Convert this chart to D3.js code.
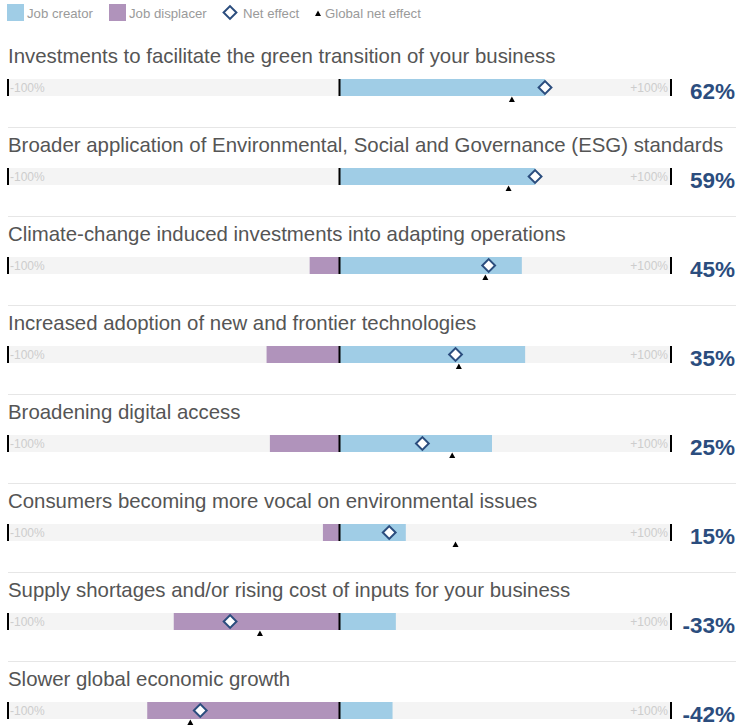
<!DOCTYPE html>
<html>
<head>
<meta charset="utf-8">
<script src="https://cdn.jsdelivr.net/npm/d3@7"></script>
<style>
  html, body { margin: 0; padding: 0; background: #fff; }
  svg { display: block; }
</style>
</head>
<body>
<div id="chart"></div>
<script>
const categories = [
  "Investments to facilitate the green transition of your business",
  "Broader application of Environmental, Social and Governance (ESG) standards",
  "Climate-change induced investments into adapting operations",
  "Increased adoption of new and frontier technologies",
  "Broadening digital access",
  "Consumers becoming more vocal on environmental issues",
  "Supply shortages and/or rising cost of inputs for your business",
  "Slower global economic growth"
];
const jobCreator   = [62, 59, 55, 56, 46, 20, 17, 16];
const jobDisplacer = [0, 0, 9, 22, 21, 5, 50, 58];
const netEffect    = [62, 59, 45, 35, 25, 15, -33, -42];
const globalNet    = [52, 51, 44, 36, 34, 35, -24, -45];
const netLabels    = ["62%", "59%", "45%", "35%", "25%", "15%", "-33%", "-42%"];
const axisLabels   = ["-100%", "+100%"];
const legendLabels = ["Job creator", "Job displacer", "Net effect", "Global net effect"];

const W = 736, H = 728;
const C_CREATOR = "#a0cde6", C_DISPLACER = "#b093bb", C_TRACK = "#f4f4f4", C_NET = "#2b4d7e";
const FONT = "'Liberation Sans', Arial, Helvetica, sans-serif";

const svg = d3.select("#chart").append("svg").attr("width", W).attr("height", H)
  .style("font-family", FONT);

const x = d3.scaleLinear().domain([-100, 100]).range([8, 671]);
const rowStep = 89, firstTrack = 79, trackH = 17;
const y = d3.scaleLinear().domain([0, 1]).range([firstTrack, firstTrack + rowStep]);

// Legend
const lg = svg.append("g").attr("class", "legend");
lg.append("rect").attr("x", 7).attr("y", 4).attr("width", 17).attr("height", 17).attr("fill", C_CREATOR);
lg.append("text").attr("x", 27).attr("y", 18).text(legendLabels[0]);
lg.append("rect").attr("x", 109).attr("y", 4).attr("width", 17).attr("height", 17).attr("fill", C_DISPLACER);
lg.append("text").attr("x", 129).attr("y", 18).text(legendLabels[1]);
lg.append("path").attr("d", d3.symbol(d3.symbolSquare, 82)()).attr("transform", "translate(230,12.5) rotate(45)")
  .attr("fill", "#fff").attr("stroke", C_NET).attr("stroke-width", 2);
lg.append("text").attr("x", 243).attr("y", 18).text(legendLabels[2]);
lg.append("path").attr("d", "M-3,3 L3,3 L0,-2.5 Z").attr("transform", "translate(318,13)").attr("fill", "#000");
lg.append("text").attr("x", 325).attr("y", 18).text(legendLabels[3]);
lg.selectAll("text").attr("font-size", 13.2).attr("fill", "#9a9a9a");

const rows = svg.selectAll("g.row").data(categories).join("g").attr("class", "row")
  .attr("transform", (d, i) => `translate(0,${y(i)})`);

// separators
rows.filter((d, i) => i < categories.length - 1).append("line")
  .attr("x1", 8).attr("x2", W).attr("y1", 48.5).attr("y2", 48.5)
  .attr("stroke", "#e6e6e6").attr("stroke-width", 1);

// titles
rows.append("text").attr("x", 8).attr("y", -16).text(d => d)
  .attr("font-size", 20.4).attr("fill", "#555").attr("font-weight", 300);

// track
rows.append("rect").attr("x", x(-100) - 1).attr("y", 0).attr("width", x(100) - x(-100) + 1).attr("height", trackH)
  .attr("fill", C_TRACK);

// axis labels
rows.append("text").attr("x", x(-100) + 2).attr("y", 12.5).text(axisLabels[0])
  .attr("font-size", 12).attr("fill", "#cdcdcd");
rows.append("text").attr("x", x(100) - 3).attr("y", 12.5).attr("text-anchor", "end").text(axisLabels[1])
  .attr("font-size", 12).attr("fill", "#cdcdcd");

// displacer bars
rows.append("rect").attr("x", (d, i) => x(-jobDisplacer[i])).attr("y", 0)
  .attr("width", (d, i) => x(0) - x(-jobDisplacer[i])).attr("height", trackH).attr("fill", C_DISPLACER);
// creator bars
rows.append("rect").attr("x", x(0)).attr("y", 0)
  .attr("width", (d, i) => x(jobCreator[i]) - x(0)).attr("height", trackH).attr("fill", C_CREATOR);

// ticks
[-100, 0, 100].forEach(v => {
  rows.append("line").attr("x1", x(v)).attr("x2", x(v)).attr("y1", 0).attr("y2", trackH)
    .attr("stroke", "#000").attr("stroke-width", 2);
});

// global triangles
rows.append("path").attr("d", "M-3,5.5 L3,5.5 L0,0 Z")
  .attr("transform", (d, i) => `translate(${x(globalNet[i])},${trackH + 0.5})`).attr("fill", "#000");

// net diamonds
rows.append("path").attr("d", d3.symbol(d3.symbolSquare, 82)())
  .attr("transform", (d, i) => `translate(${x(netEffect[i])},${trackH / 2}) rotate(45)`)
  .attr("fill", "#fff").attr("stroke", C_NET).attr("stroke-width", 2);

// net labels
rows.append("text").attr("x", 735).attr("y", 20).attr("text-anchor", "end").text((d, i) => netLabels[i])
  .attr("font-size", 22.5).attr("font-weight", "bold").attr("fill", C_NET);
</script>
</body>
</html>
